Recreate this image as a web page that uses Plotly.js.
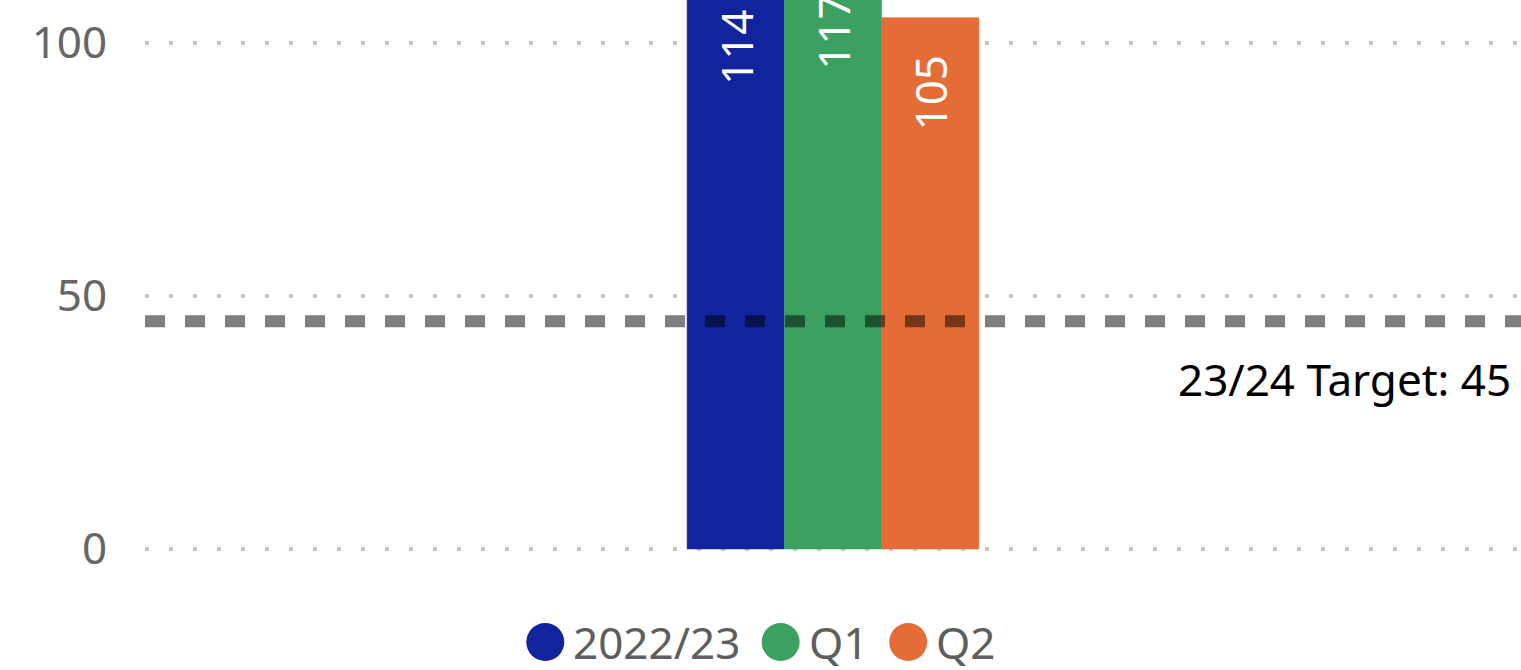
<!DOCTYPE html>
<html>
<head>
<meta charset="utf-8">
<script src="https://cdn.plot.ly/plotly-3.0.1.min.js"></script>
<style>
  html, body { margin: 0; padding: 0; background: #ffffff; }
  #chart { width: 1521px; height: 670px; }
</style>
</head>
<body>
<div id="chart"></div>
<script>
// Single-category grouped bar chart with a dashed target line.
const categories = ['Total'];
const seriesNames = ['2022/23', 'Q1', 'Q2'];
const seriesValues = [114, 117, 105];
const targetValue = 45;
const targetName = '23/24 Target';
const yTickValues = [0, 50, 100];
const yTickLabels = ['0', '50', '100'];

// Styling
const palette = ['#12239E', '#3BA160', '#E66C37'];
const FONT = '"Noto Sans", "Open Sans", sans-serif';
const FONT_SIZE = 44;
const W = 1521, H = 670;
const M = { l: 145, r: 0, t: 0, b: 115 };
const plotW = W - M.l - M.r;
const plotH = H - M.t - M.b;

const traces = seriesNames.map((name, i) => ({
  type: 'bar',
  name: name,
  x: categories,
  y: [seriesValues[i]],
  marker: { color: palette[i], line: { width: 0.6, color: palette[i] } },
  texttemplate: '%{y}\u00a0\u00a0\u00a0',
  textposition: 'inside',
  insidetextanchor: 'end',
  textangle: -90,
  textfont: { family: FONT, size: FONT_SIZE, color: '#ffffff' },
  showlegend: false,
  hoverinfo: 'skip'
}));

// Legend built as circles + labels, centred on the page
const measure = document.createElement('canvas').getContext('2d');
measure.font = FONT_SIZE + 'px "Noto Sans"';
const DOT = 38, DOT_GAP = 8, ITEM_GAP = 22;
const widths = seriesNames.map(n => measure.measureText(n).width);
const total = widths.reduce((s, w) => s + DOT + DOT_GAP + w, 0) + ITEM_GAP * (seriesNames.length - 1);
let cursor = W / 2 - total / 2;
const legendY = 642;
const toPx = px => (px - M.l) / plotW;
const toPy = py => (M.t + plotH - py) / plotH;

const shapes = [{
  type: 'line', xref: 'paper', yref: 'y',
  x0: 0, x1: 1, y0: targetValue, y1: targetValue,
  line: { color: 'rgba(0,0,0,0.5)', width: 12, dash: '20px,20px' },
  layer: 'above'
}];
const annotations = [{
  xref: 'paper', yref: 'y', x: 1, y: targetValue,
  xanchor: 'right', yanchor: 'middle', xshift: -8, yshift: -58,
  text: targetName + ': ' + targetValue, showarrow: false,
  font: { family: FONT, size: FONT_SIZE, color: '#000000' }
}];

seriesNames.forEach((name, i) => {
  const cx = cursor + DOT / 2;
  shapes.push({
    type: 'circle', xref: 'paper', yref: 'paper',
    xsizemode: 'pixel', ysizemode: 'pixel',
    xanchor: toPx(cx), yanchor: toPy(legendY),
    x0: -DOT / 2, x1: DOT / 2, y0: -DOT / 2, y1: DOT / 2,
    fillcolor: palette[i], line: { width: 0 }
  });
  annotations.push({
    xref: 'paper', yref: 'paper',
    x: toPx(cursor + DOT + DOT_GAP), y: toPy(legendY),
    xanchor: 'left', yanchor: 'middle', showarrow: false,
    text: name, borderpad: 0,
    font: { family: FONT, size: FONT_SIZE, color: '#605E5C' }
  });
  cursor += DOT + DOT_GAP + widths[i] + ITEM_GAP;
});

const layout = {
  width: W, height: H,
  margin: M,
  paper_bgcolor: '#ffffff', plot_bgcolor: '#ffffff',
  barmode: 'group',
  bargap: 0.788,
  bargroupgap: 0,
  showlegend: false,
  font: { family: FONT, size: FONT_SIZE, color: '#666666' },
  xaxis: {
    type: 'category', showticklabels: false, showgrid: false,
    zeroline: false, showline: false, ticks: ''
  },
  yaxis: {
    range: [-1.2, 108.5],
    tickvals: yTickValues, ticktext: yTickLabels,
    tickfont: { family: FONT, size: FONT_SIZE, color: '#666666' },
    showgrid: true, gridcolor: '#C8C8C8', gridwidth: 4, griddash: '4px,20px',
    zeroline: false, showline: false,
    ticks: 'outside', ticklen: 28, tickcolor: 'rgba(0,0,0,0)'
  },
  shapes: shapes,
  annotations: annotations
};

Plotly.newPlot('chart', traces, layout, { displayModeBar: false, staticPlot: true });
</script>
</body>
</html>
